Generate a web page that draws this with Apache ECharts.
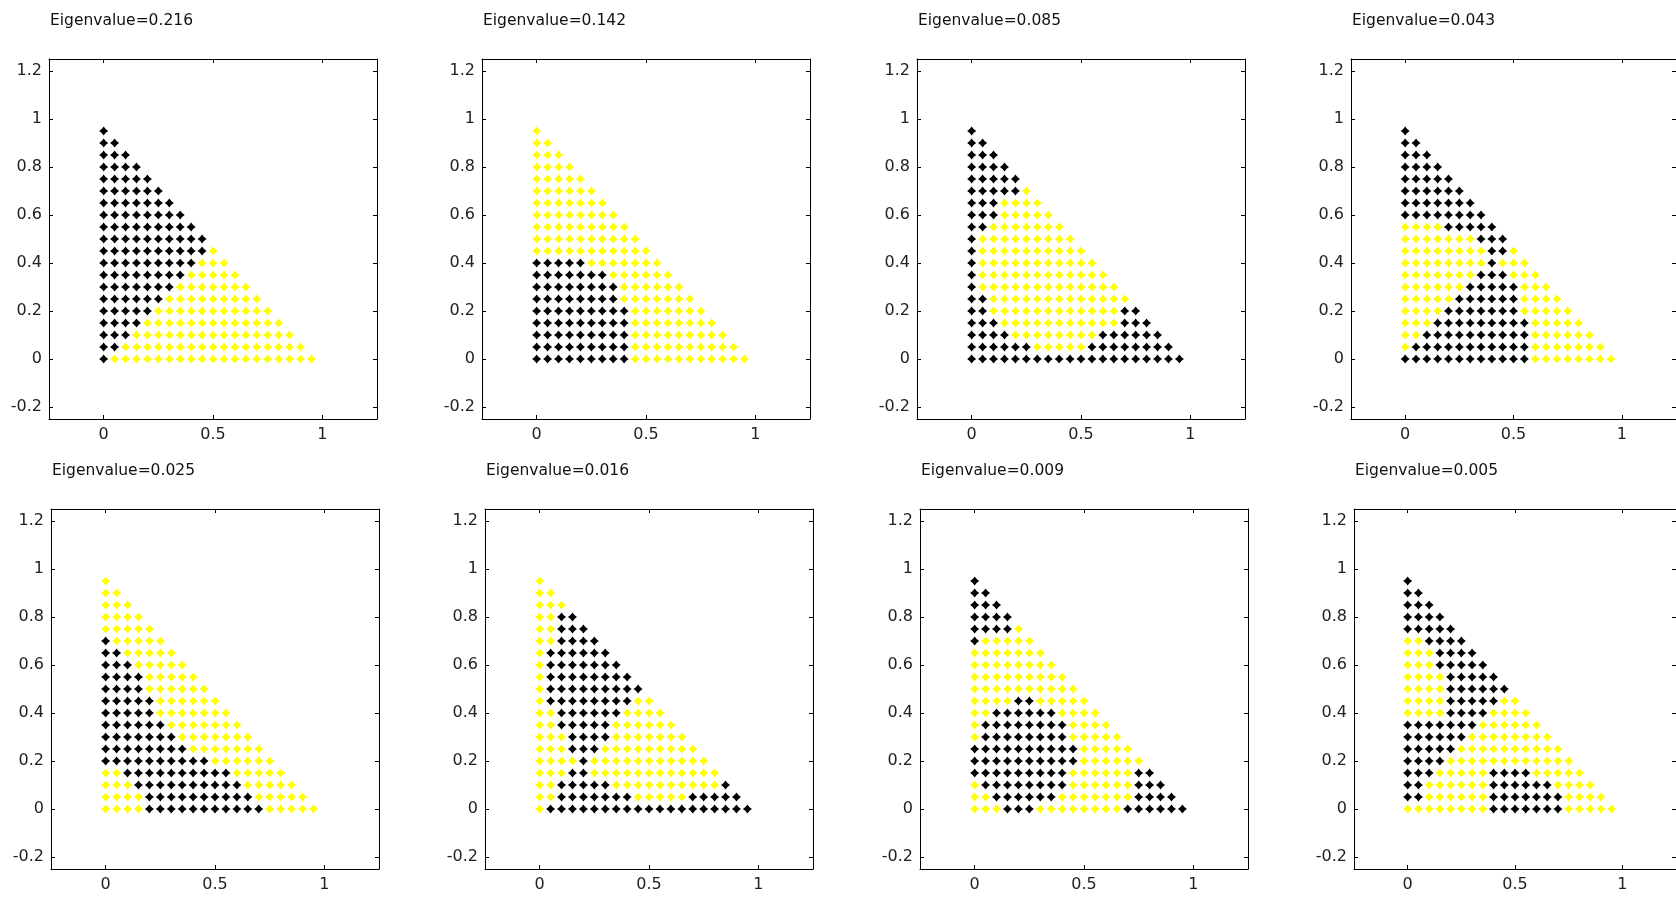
<!DOCTYPE html>
<html>
<head>
<meta charset="utf-8">
<style>
html,body{margin:0;padding:0;background:#fff;}
#chart{width:1676px;height:899px;}
</style>
<script src="https://cdn.jsdelivr.net/npm/echarts@6/dist/echarts.min.js"></script>
</head>
<body>
<div id="chart"></div>
<script>
// Panel titles (eigenvalues)
const eigenvalues = ['0.216', '0.142', '0.085', '0.043', '0.025', '0.016', '0.009', '0.005'];
// Grid coordinate values of the triangular lattice
const gridVals = [0, 0.05, 0.1, 0.15, 0.2, 0.25, 0.3, 0.35, 0.4, 0.45, 0.5, 0.55, 0.6, 0.65, 0.7, 0.75, 0.8, 0.85, 0.9, 0.95];
// Axis ticks
const xTicks = [0, 0.5, 1];
const yTicks = [-0.2, 0, 0.2, 0.4, 0.6, 0.8, 1, 1.2];
// Row patterns (top row y=0.95 first, each row left to right from x=0), run-length: B=black, Y=yellow
const panel1 = ['1B','2B','3B','4B','5B','6B','7B','8B','9B','10B','10B1Y','9B3Y','8B5Y','7B7Y','6B9Y','5B11Y','4B13Y','3B15Y','2B17Y','1B19Y'];
const panel2 = ['1Y','2Y','3Y','4Y','5Y','6Y','7Y','8Y','9Y','10Y','11Y','5B7Y','7B6Y','8B6Y','8B7Y','9B7Y','9B8Y','9B9Y','9B10Y','9B11Y'];
const panel3 = ['1B','2B','3B','4B','5B','5B1Y','3B4Y','3B5Y','2B7Y','1B9Y','1B10Y','1B11Y','1B12Y','1B13Y','2B13Y','2B12Y2B','3B11Y3B','4B8Y6B','6B5Y8B','20B'];
const panel4 = ['1B','2B','3B','4B','5B','6B','7B','8B','4Y5B','7Y3B','8Y2B1Y','8Y1B3Y','7Y3B3Y','6Y5B3Y','5Y6B4Y','4Y7B5Y','3Y9B5Y','2Y10B6Y','1Y11B7Y','12B8Y'];
const panel5 = ['1Y','2Y','3Y','4Y','5Y','1B5Y','2B5Y','3B5Y','4B5Y','4B6Y','5B6Y','5B7Y','6B7Y','7B7Y','8B7Y','10B6Y','2Y10B5Y','3Y10B5Y','4Y10B5Y','4Y11B5Y'];
const panel6 = ['1Y','2Y','3Y','2Y2B','2Y3B','2Y4B','1Y6B','1Y7B','1Y8B','1Y9B','1Y8B2Y','2Y6B4Y','2Y5B6Y','3Y4B7Y','3Y3B9Y','4Y1B11Y','3Y2B12Y','2Y5B10Y1B','2Y7B5Y5B','1Y19B'];
const panel7 = ['1B','2B','3B','4B','4B1Y','1B5Y','7Y','8Y','9Y','10Y','4Y2B5Y','2Y6B4Y','1Y8B4Y','1Y8B5Y','10B5Y','10B6Y','9B6Y2B','1Y8B6Y3B','2Y6B7Y4B','3Y3B8Y6B'];
const panel8 = ['1B','2B','3B','4B','5B','2Y4B','3Y4B','3Y5B','4Y5B','4Y6B','4Y5B2Y','4Y4B4Y','7B6Y','6B8Y','5B10Y','4B12Y','3B5Y4B5Y','2B6Y6B4Y','2B6Y7B4Y','8Y7B5Y'];
const panels = [panel1, panel2, panel3, panel4, panel5, panel6, panel7, panel8];

function expand(rle) {
  const out = [];
  rle.replace(/(\d+)([BY])/g, function (m, n, c) { for (let i = 0; i < +n; i++) out.push(c); return m; });
  return out;
}

const layout = [
  {left: 49, top: 59}, {left: 482, top: 59}, {left: 917, top: 59}, {left: 1351, top: 59},
  {left: 51, top: 509}, {left: 485, top: 509}, {left: 920, top: 509}, {left: 1354, top: 509}
];
const W = 328, H = 360;
const starPath = 'path://M0,-10 L4.4,-4.4 L10,0 L4.4,4.4 L0,10 L-4.4,4.4 L-10,0 L-4.4,-4.4 Z';
const labelFont = {fontFamily: 'DejaVu Sans', fontSize: 16, color: '#222'};

const grids = [], xAxes = [], yAxes = [], series = [], titles = [];
panels.forEach(function (pat, p) {
  const L = layout[p];
  grids.push({left: L.left, top: L.top, width: W, height: H, show: false});
  titles.push({
    text: 'Eigenvalue=' + eigenvalues[p], left: L.left + 1, top: L.top - 46, padding: 0,
    textStyle: {fontFamily: 'DejaVu Sans', fontSize: 15.5, fontWeight: 'normal', color: '#111'}
  });
  const axLine = {show: true, onZero: false, lineStyle: {color: '#000', width: 1}};
  const tick = function (vals) { return {show: true, inside: true, length: 4, customValues: vals, lineStyle: {color: '#000'}}; };
  xAxes.push({gridIndex: p, type: 'value', position: 'bottom', min: -0.25, max: 1.25,
    axisLine: axLine, axisTick: tick(xTicks), splitLine: {show: false},
    axisLabel: Object.assign({customValues: xTicks, margin: 8}, labelFont)});
  xAxes.push({gridIndex: p, type: 'value', position: 'top', min: -0.25, max: 1.25,
    axisLine: axLine, axisTick: tick(xTicks), splitLine: {show: false}, axisLabel: {show: false}});
  yAxes.push({gridIndex: p, type: 'value', position: 'left', min: -0.25, max: 1.25,
    axisLine: axLine, axisTick: tick(yTicks), splitLine: {show: false},
    axisLabel: Object.assign({customValues: yTicks, margin: 7}, labelFont)});
  yAxes.push({gridIndex: p, type: 'value', position: 'right', min: -0.25, max: 1.25,
    axisLine: axLine, axisTick: tick(yTicks), splitLine: {show: false}, axisLabel: {show: false}});
  const black = [], yellow = [];
  pat.forEach(function (row, r) {
    const cols = expand(row);
    const y = gridVals[19 - r];
    cols.forEach(function (c, i) {
      (c === 'B' ? black : yellow).push([gridVals[i], y]);
    });
  });
  [[black, '#000000'], [yellow, '#ffff00']].forEach(function (s) {
    series.push({type: 'scatter', xAxisIndex: 2 * p, yAxisIndex: 2 * p, data: s[0],
      symbol: starPath, symbolSize: 9, itemStyle: {color: s[1], opacity: 1}, silent: true, animation: false});
  });
});

const chart = echarts.init(document.getElementById('chart'), null, {renderer: 'canvas'});
chart.setOption({
  backgroundColor: '#fff',
  animation: false,
  title: titles,
  grid: grids,
  xAxis: xAxes,
  yAxis: yAxes,
  series: series
});
</script>
</body>
</html>
